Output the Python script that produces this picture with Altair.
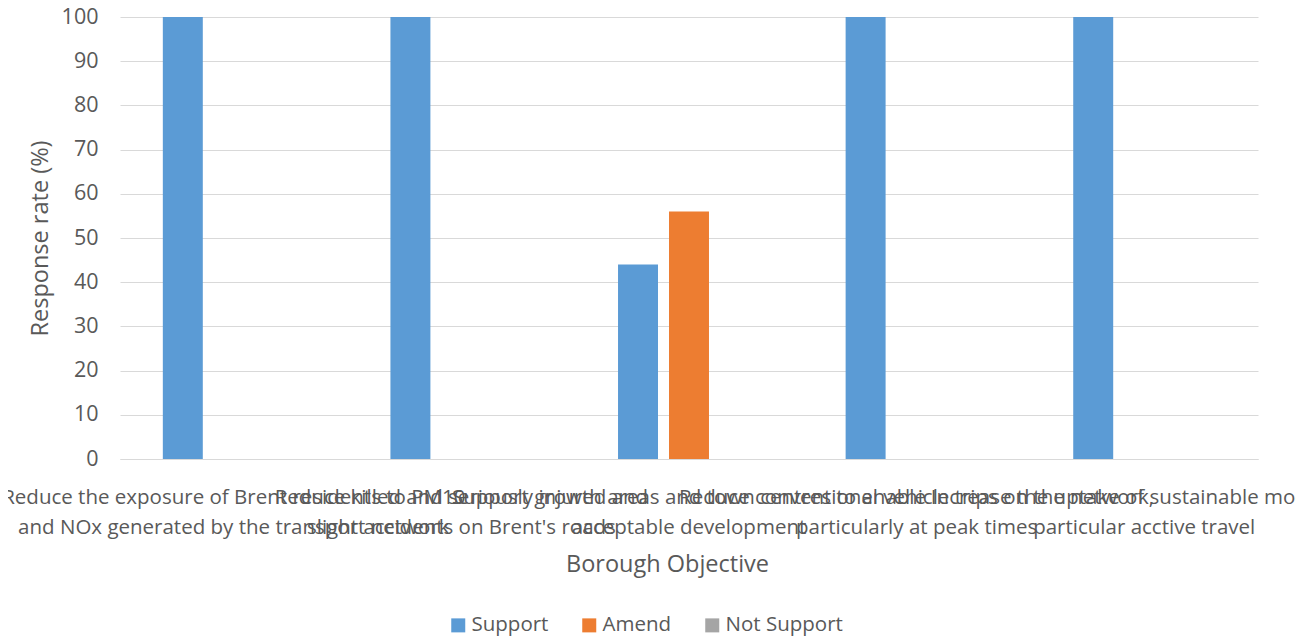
import altair as alt
import pandas as pd

categories = [
    "Reduce the exposure of Brent residents to PM10\nand NOx generated by the transport network",
    "Reduce killed and seriously injured and\nslight accidents on Brent's roads",
    "Support growth areas and town centres to enable\nacceptable development",
    "Reduce conventional vehicle trips on the network,\nparticularly at peak times",
    "Increase the uptake of sustainable modes, in\nparticular acctive travel",
]
series = ["Support", "Amend", "Not Support"]
support = [100, 100, 44, 100, 100]
amend = [0, 0, 56, 0, 0]
not_support = [0, 0, 0, 0, 0]
colors = ["#5b9bd5", "#ed7d31", "#a5a5a5"]

rows = []
for i, c in enumerate(categories):
    for s, vals in zip(series, [support, amend, not_support]):
        rows.append({"Objective": c, "Series": s, "Value": vals[i]})
df = pd.DataFrame(rows)

FONT = "Open Sans"
TXT = "#595959"
FS = 21.5

chart = alt.Chart(df).mark_bar().encode(
    x=alt.X(
        "Objective:N",
        sort=categories,
        scale=alt.Scale(paddingInner=0, paddingOuter=0),
        axis=alt.Axis(
            title="Borough Objective",
            labelAngle=0,
            labelExpr="split(datum.label, '\\n')",
            labelLimit=0,
            labelOverlap=False,
            labelBound=False,
            labelFlush=False,
            labelFont=FONT,
            labelFontSize=20.5,
            labelColor=TXT,
            labelLineHeight=30,
            labelPadding=28,
            labelBaseline="top",
            ticks=False,
            domainColor="#d9d9d9",
            titleFont=FONT,
            titleFontSize=23.5,
            titleFontWeight="normal",
            titleColor=TXT,
            titleX=547,
            titleY=93,
        ),
    ),
    xOffset=alt.XOffset(
        "Series:N",
        sort=series,
        scale=alt.Scale(paddingInner=0.216, paddingOuter=0.84),
    ),
    y=alt.Y(
        "Value:Q",
        scale=alt.Scale(domain=[0, 100]),
        axis=alt.Axis(
            title="Response rate (%)",
            values=list(range(0, 101, 10)),
            ticks=False,
            domain=False,
            gridColor="#d9d9d9",
            labelFont=FONT,
            labelFontSize=FS,
            labelColor=TXT,
            labelPadding=22,
            titleFont=FONT,
            titleFontSize=23.5,
            titleFontWeight="normal",
            titleColor=TXT,
            titleX=-68,
            titleY=221,
        ),
    ),
    color=alt.Color(
        "Series:N",
        sort=series,
        scale=alt.Scale(domain=series, range=colors),
        legend=alt.Legend(
            title=None,
            orient="none",
            direction="horizontal",
            legendX=328,
            legendY=598,
            symbolType="square",
            symbolSize=196,
            symbolStrokeWidth=0,
            labelFont=FONT,
            labelFontSize=20.5,
            labelColor=TXT,
            labelOffset=3,
            columnPadding=30,
        ),
    ),
).properties(
    width=1138,
    height=442,
    autosize=alt.AutoSizeParams(type="none"),
    padding={"left": 112, "top": 9, "right": 38, "bottom": 177},
).configure_view(stroke=None)

chart.save("out.html", embed_options={"renderer": "svg", "actions": False})
